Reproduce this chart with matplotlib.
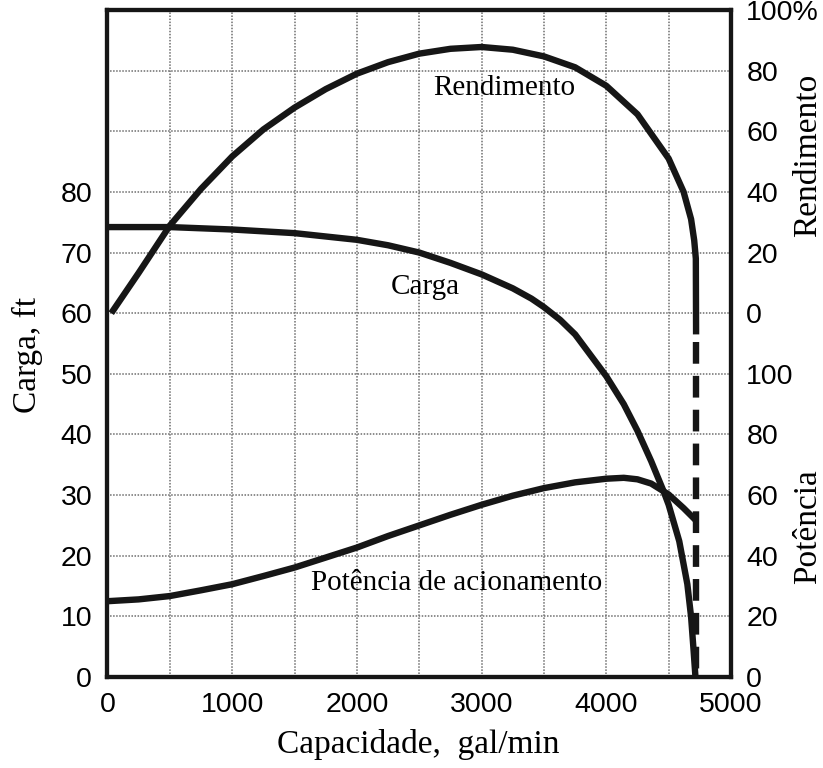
import matplotlib
matplotlib.use("Agg")
import matplotlib.pyplot as plt
import numpy as np

# Capacidade (gal/min) and curves
q_carga = [0, 500, 1000, 1500, 2000, 2250, 2500, 2750, 3000, 3250, 3400, 3500, 3630, 3750,
           4000, 4140, 4250, 4360, 4460, 4500, 4585, 4650, 4680, 4700, 4715]
carga = [74.2, 74.2, 73.8, 73.2, 72.1, 71.2, 70.0, 68.3, 66.4, 64.1, 62.4, 61.0, 58.9, 56.5,
         49.6, 45.0, 40.6, 35.6, 30.6, 28.4, 22.4, 15.3, 9.9, 4.4, 0]

q_rend = [30, 250, 500, 750, 1000, 1250, 1500, 1750, 2000, 2250, 2500, 2750, 3000,
          3250, 3500, 3750, 4000, 4250, 4500, 4620, 4680, 4705, 4718, 4720]
rendimento = [0, 13.3, 28.9, 41.0, 51.7, 60.6, 67.8, 73.9, 79.0, 82.8, 85.6, 87.2, 87.8,
              86.9, 84.7, 81.1, 75.0, 65.6, 51.0, 40.0, 31.0, 24.0, 18.0, -7.0]

q_pot = [0, 250, 500, 750, 1000, 1250, 1500, 1750, 2000, 2250, 2500, 2750, 3000,
         3250, 3500, 3750, 4000, 4140, 4250, 4360, 4500, 4620, 4715]
potencia = [25.0, 25.6, 26.7, 28.6, 30.6, 33.3, 36.1, 39.4, 42.7, 46.5, 50.0, 53.5, 56.8,
            59.8, 62.3, 64.2, 65.4, 65.7, 65.2, 63.8, 60.2, 55.7, 51.8]

q_corte = 4720
x_ticks = [0, 1000, 2000, 3000, 4000, 5000]
carga_ticks = [0, 10, 20, 30, 40, 50, 60, 70, 80]
pot_ticks = [0, 20, 40, 60, 80, 100]
rend_ticks = [0, 20, 40, 60, 80, 100]

# right scales mapped onto the left (ft) scale
def rend_to_ft(r):
    return 60 + np.asarray(r) / 2.0

def pot_to_ft(p):
    return np.asarray(p) / 2.0

serif = "Liberation Serif"
sans = "Liberation Sans"
plt.rcParams["font.family"] = sans

fig = plt.figure(figsize=(8.23, 7.68), dpi=100)
ax = fig.add_axes([107.5 / 823, 91 / 768, 623.5 / 823, 667 / 768])

lw = 4.6
ink = "#161616"
ax.plot(q_carga, carga, color=ink, lw=lw, solid_capstyle="butt", solid_joinstyle="round")
ax.plot(q_rend, rend_to_ft(rendimento), color=ink, lw=lw, solid_capstyle="butt",
        solid_joinstyle="round")
ax.plot(q_pot, pot_to_ft(potencia), color=ink, lw=lw, solid_capstyle="butt",
        solid_joinstyle="round")
ax.plot([q_corte, q_corte], [rend_to_ft(-9.5), 0], color=ink, lw=lw,
        dashes=(3.4, 1.9))

ax.set_xlim(0, 5000)
ax.set_ylim(0, 110)
ax.set_xticks(np.arange(500, 5000, 1000), minor=True)
ax.set_yticks([90, 100], minor=True)
ax.set_xticks(x_ticks)
ax.set_yticks(carga_ticks)
ax.grid(which="both", color="#6e6e6e", ls=(0, (1, 1)), lw=1.1)
ax.set_axisbelow(True)
ax.tick_params(which="both", length=0)
ax.tick_params(axis="x", labelsize=20.5, pad=11)
ax.tick_params(axis="y", labelsize=20.5, pad=11)
for s in ax.spines.values():
    s.set_linewidth(3)
    s.set_color(ink)

ax2 = ax.twinx()
ax2.set_ylim(0, 110)
rt = list(pot_to_ft(pot_ticks)) + list(rend_to_ft(rend_ticks))
rl = [str(v) for v in pot_ticks] + [str(v) for v in rend_ticks[:-1]] + ["100%"]
ax2.set_yticks(rt)
ax2.set_yticklabels(rl)
ax2.tick_params(length=0, labelsize=20.5, pad=11)
for s in ax2.spines.values():
    s.set_linewidth(3)
    s.set_color(ink)

ax.text(3180, 97.1, "Rendimento", fontsize=21, family=serif, ha="center", va="center")
ax.text(2546, 64.3, "Carga", fontsize=21, family=serif, ha="center", va="center")
ax.text(2803, 15.5, "Potência de acionamento", fontsize=21, family=serif,
        ha="center", va="center")

fig.text(418 / 823, 1 - 745 / 768, "Capacidade,  gal/min", fontsize=24, family=serif,
         ha="center", va="center")
fig.text(27 / 823, 1 - 355 / 768, "Carga, ft", fontsize=24, family=serif,
         ha="center", va="center", rotation=90)
fig.text(808 / 823, 1 - 155 / 768, "Rendimento", fontsize=24, family=serif,
         ha="center", va="center", rotation=90)
fig.text(808 / 823, 1 - 527 / 768, "Potência", fontsize=24, family=serif,
         ha="center", va="center", rotation=90)

fig.savefig("out.png", dpi=100)
